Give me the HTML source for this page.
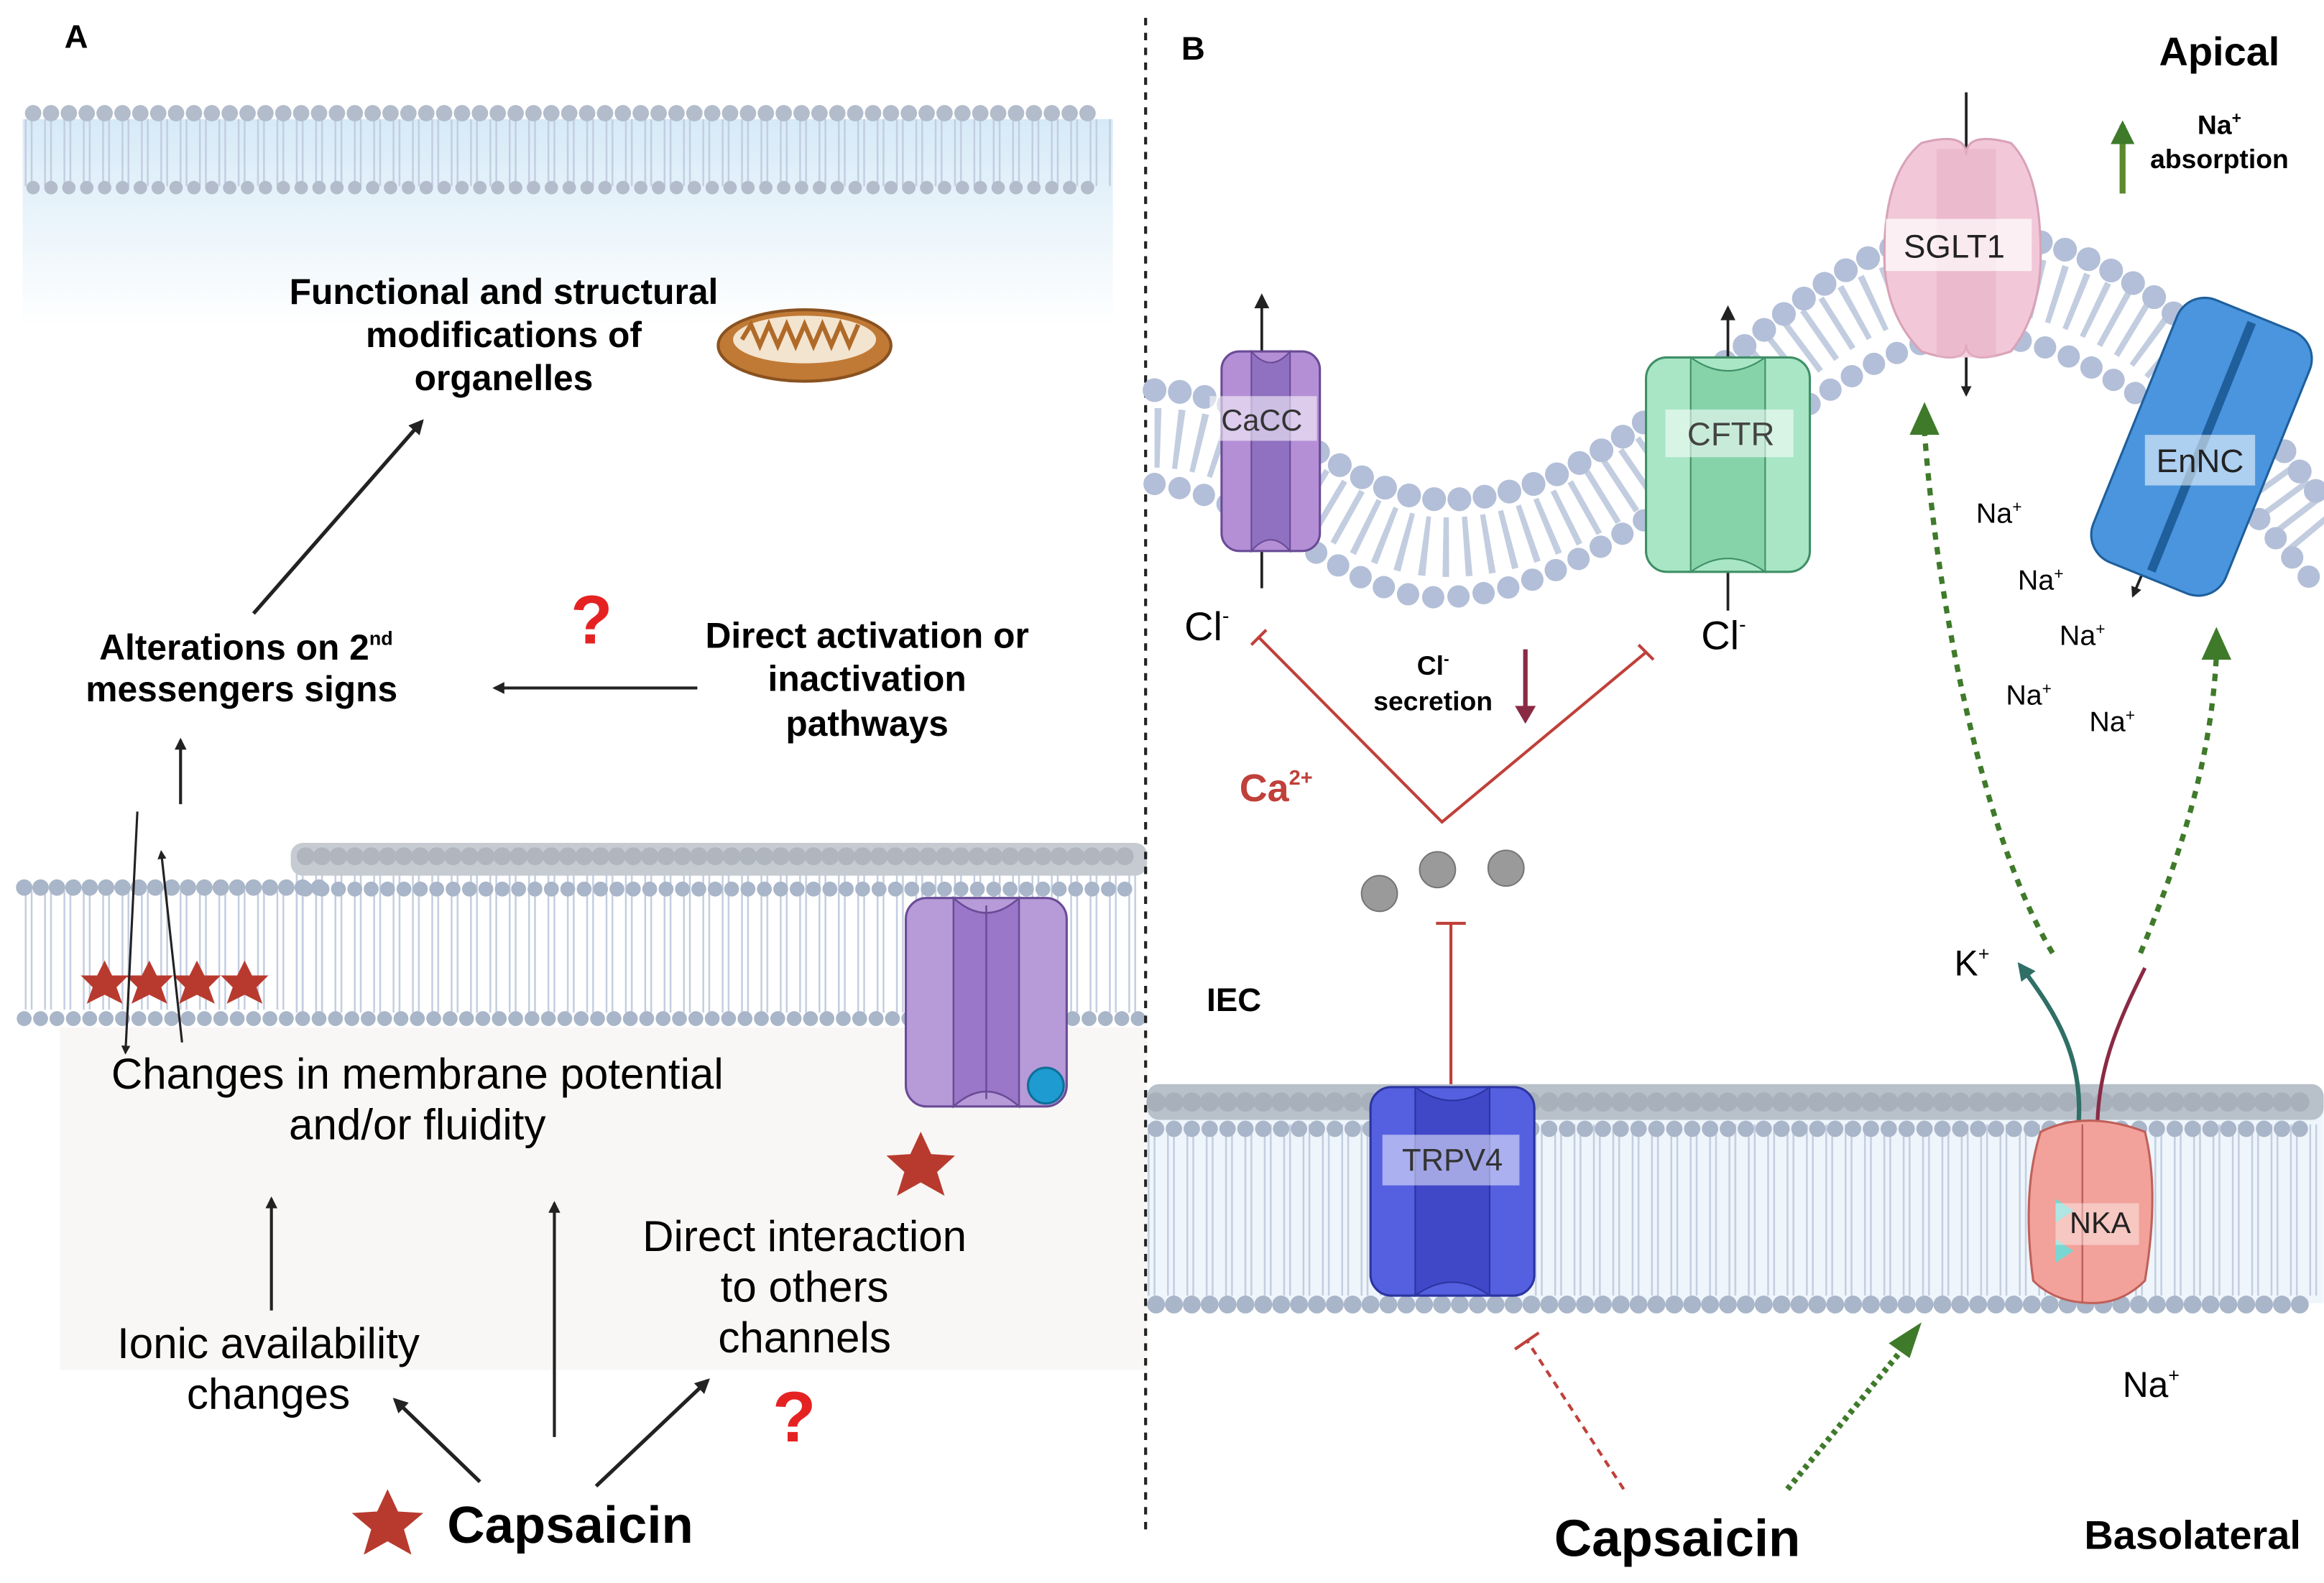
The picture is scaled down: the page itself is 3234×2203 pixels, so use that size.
<!DOCTYPE html>
<html><head><meta charset="utf-8"><style>html,body{margin:0;padding:0;background:#fff}svg{display:block}</style></head>
<body>
<svg width="3234" height="2203" viewBox="0 0 1560 1063" xmlns="http://www.w3.org/2000/svg" font-family="Liberation Sans, sans-serif">
<defs>
<pattern id="tails" width="13" height="200" patternUnits="userSpaceOnUse">
<path d="M4,0 V200 M8,0 V200" stroke="#c3cde0" stroke-width="1.2"/>
</pattern>
<linearGradient id="blueg" x1="0" y1="0" x2="0" y2="1"><stop offset="0" stop-color="#d6eaf7"/><stop offset="1" stop-color="#fff"/></linearGradient>
<marker id="ak" viewBox="0 0 10 10" refX="8" refY="5" markerWidth="4" markerHeight="4" orient="auto"><path d="M0,0 L10,5 L0,10z" fill="#222"/></marker>
<marker id="ag" viewBox="0 0 10 10" refX="8" refY="5" markerWidth="4" markerHeight="4" orient="auto"><path d="M0,0 L10,5 L0,10z" fill="#3e7a2a"/></marker>
<marker id="at" viewBox="0 0 10 10" refX="8" refY="5" markerWidth="4" markerHeight="4" orient="auto"><path d="M0,0 L10,5 L0,10z" fill="#2f6f66"/></marker>
</defs>

<!-- Panel A top membrane -->
<rect x="15" y="80" width="732" height="140" fill="url(#blueg)"/>
<rect x="15" y="80" width="732" height="45" fill="url(#tails)"/>
<line x1="22" y1="76" x2="740" y2="76" stroke="#b2bccb" stroke-width="11" stroke-dasharray="0 12" stroke-linecap="round"/>
<line x1="22" y1="126" x2="740" y2="126" stroke="#b2bccb" stroke-width="9" stroke-dasharray="0 12" stroke-linecap="round"/>

<text x="43" y="32" font-size="22" font-weight="bold">A</text>
<text x="338" y="204" font-size="24" font-weight="bold" text-anchor="middle">Functional and structural</text>
<text x="338" y="233" font-size="24" font-weight="bold" text-anchor="middle">modifications of</text>
<text x="338" y="262" font-size="24" font-weight="bold" text-anchor="middle">organelles</text>
<!-- mitochondrion -->
<ellipse cx="540" cy="232" rx="58" ry="24" fill="#c07a35" stroke="#8a5220" stroke-width="2"/>
<ellipse cx="540" cy="228" rx="48" ry="16" fill="#f3e4cf"/>
<path d="M498,228 l6,-10 l6,14 l6,-14 l6,14 l6,-14 l6,14 l6,-14 l6,14 l6,-14 l6,14 l6,-14 l6,14 l6,-14" fill="none" stroke="#b06a28" stroke-width="3"/>

<line x1="170" y1="412" x2="283" y2="283" stroke="#222" stroke-width="2.5" marker-end="url(#ak)"/>
<text x="165" y="443" font-size="24" font-weight="bold" text-anchor="middle">Alterations on 2<tspan font-size="13" dy="-10">nd</tspan></text>
<text x="162" y="471" font-size="24" font-weight="bold" text-anchor="middle">messengers signs</text>
<text x="397" y="432" font-size="46" font-weight="bold" fill="#e52222" text-anchor="middle">?</text>
<text x="582" y="435" font-size="24" font-weight="bold" text-anchor="middle">Direct activation or</text>
<text x="582" y="464" font-size="24" font-weight="bold" text-anchor="middle">inactivation</text>
<text x="582" y="494" font-size="24" font-weight="bold" text-anchor="middle">pathways</text>
<line x1="468" y1="462" x2="332" y2="462" stroke="#222" stroke-width="2" marker-end="url(#ak)"/>
<line x1="121" y1="540" x2="121" y2="497" stroke="#222" stroke-width="2" marker-end="url(#ak)"/>

<!-- Panel A middle membrane -->
<rect x="40" y="690" width="730" height="230" fill="#f8f7f5"/>
<rect x="195" y="580" width="575" height="100" fill="url(#tails)"/>
<rect x="10" y="598" width="215" height="80" fill="url(#tails)"/>
<rect x="195" y="566" width="575" height="22" fill="#c6cbd2" rx="8"/>
<line x1="205" y1="575" x2="765" y2="575" stroke="#b0b6be" stroke-width="12" stroke-dasharray="0 11" stroke-linecap="round"/>
<line x1="205" y1="597" x2="765" y2="597" stroke="#a9b5c8" stroke-width="10" stroke-dasharray="0 11" stroke-linecap="round"/>
<line x1="16" y1="596" x2="222" y2="596" stroke="#a9b5c8" stroke-width="11" stroke-dasharray="0 11" stroke-linecap="round"/>
<line x1="16" y1="684" x2="765" y2="684" stroke="#a9b5c8" stroke-width="10" stroke-dasharray="0 11" stroke-linecap="round"/>
<g fill="#b83a2e">
<path id="st" d="M70,645 l5,10 11,0 -8,8 4,11 -12,-6 -12,6 4,-11 -8,-8 11,0z"/>
<use href="#st" x="30"/><use href="#st" x="62"/><use href="#st" x="94"/>
</g>
<path d="M92,545 L84,707" stroke="#222" stroke-width="1.5" fill="none" marker-end="url(#ak)"/>
<path d="M122,700 L108,572" stroke="#222" stroke-width="1.5" fill="none" marker-end="url(#ak)"/>
<!-- purple channel A -->
<g>
<rect x="608" y="603" width="108" height="140" rx="14" fill="#b79ad8" stroke="#6a4b96" stroke-width="1.5"/>
<path d="M640,603 q22,20 44,0 v140 q-22,-20 -44,0z" fill="#9a77c8" stroke="#6a4b96" stroke-width="1.2"/>
<line x1="662" y1="608" x2="662" y2="738" stroke="#6a4b96" stroke-width="1.2"/>
<circle cx="702" cy="729" r="12" fill="#1e9bd0" stroke="#0f6f98" stroke-width="1.5"/>
</g>
<path d="M618,760 l7,15 16,1 -12,11 5,16 -16,-9 -16,9 5,-16 -12,-11 16,-1z" fill="#b83a2e"/>
<text x="280" y="731" font-size="29" text-anchor="middle">Changes in membrane potential</text>
<text x="280" y="765" font-size="29" text-anchor="middle">and/or fluidity</text>
<line x1="182" y1="880" x2="182" y2="805" stroke="#222" stroke-width="2" marker-end="url(#ak)"/>
<line x1="372" y1="965" x2="372" y2="808" stroke="#222" stroke-width="2" marker-end="url(#ak)"/>
<text x="540" y="840" font-size="29" text-anchor="middle">Direct interaction</text>
<text x="540" y="874" font-size="29" text-anchor="middle">to others</text>
<text x="540" y="908" font-size="29" text-anchor="middle">channels</text>
<text x="180" y="912" font-size="29" text-anchor="middle">Ionic availability</text>
<text x="180" y="946" font-size="29" text-anchor="middle">changes</text>
<text x="533" y="968" font-size="48" font-weight="bold" fill="#e52222" text-anchor="middle">?</text>
<line x1="322" y1="995" x2="265" y2="940" stroke="#222" stroke-width="2.5" marker-end="url(#ak)"/>
<line x1="400" y1="998" x2="475" y2="927" stroke="#222" stroke-width="2.5" marker-end="url(#ak)"/>
<path d="M260,1000 l7,15 17,1 -13,11 5,17 -16,-9 -16,9 5,-17 -13,-11 17,-1z" fill="#b83a2e"/>
<text x="300" y="1036" font-size="35" font-weight="bold">Capsaicin</text>

<!-- divider -->
<line x1="769" y1="12" x2="769" y2="1030" stroke="#222" stroke-width="2" stroke-dasharray="5 5"/>

<!-- Panel B -->
<text x="793" y="40" font-size="22" font-weight="bold">B</text>
<text x="1490" y="44" font-size="27" font-weight="bold" text-anchor="middle">Apical</text>
<text x="1490" y="90" font-size="18" font-weight="bold" text-anchor="middle">Na<tspan font-size="11" dy="-7">+</tspan></text>
<text x="1490" y="113" font-size="18" font-weight="bold" text-anchor="middle">absorption</text>
<line x1="1425" y1="130" x2="1425" y2="84" stroke="#5b8a2e" stroke-width="4" marker-end="url(#ag)"/>

<!-- curved membrane -->
<path d="M775,262 C850,262 900,330 960,335 C1030,340 1080,300 1130,265 C1190,220 1230,175 1290,160 C1360,150 1400,170 1440,195 C1490,230 1520,290 1555,330" fill="none" stroke="#c3cde0" stroke-width="40" stroke-dasharray="4 10" transform="translate(0,32)"/>
<path d="M775,262 C850,262 900,330 960,335 C1030,340 1080,300 1130,265 C1190,220 1230,175 1290,160 C1360,150 1400,170 1440,195 C1490,230 1520,290 1555,330" fill="none" stroke="#b3bfd8" stroke-width="16" stroke-dasharray="0 17" stroke-linecap="round"/>
<path d="M775,325 C850,333 900,398 960,401 C1030,403 1080,363 1130,333 C1190,293 1240,243 1300,228 C1360,218 1400,243 1440,268 C1480,303 1520,353 1555,393" fill="none" stroke="#b3bfd8" stroke-width="15" stroke-dasharray="0 17" stroke-linecap="round"/>

<!-- CaCC -->
<line x1="847" y1="206" x2="847" y2="395" stroke="#222" stroke-width="1.8"/>
<path d="M847,197 l-5,10 h10z" fill="#222"/>
<rect x="820" y="236" width="66" height="134" rx="12" fill="#b48fd6" stroke="#6a4b96" stroke-width="1.5"/>
<path d="M840,236 q13,15 26,0 v134 q-13,-15 -26,0z" fill="#9070c0" stroke="#6a4b96"/>
<rect x="812" y="266" width="72" height="30" fill="#fff" opacity="0.55"/>
<text x="847" y="289" font-size="20" text-anchor="middle" fill="#333">CaCC</text>
<text x="795" y="430" font-size="27">Cl<tspan font-size="14" dy="-12">-</tspan></text>

<!-- CFTR -->
<line x1="1160" y1="213" x2="1160" y2="410" stroke="#222" stroke-width="1.8"/>
<path d="M1160,205 l-5,10 h10z" fill="#222"/>
<rect x="1105" y="240" width="110" height="144" rx="14" fill="#a8e6c5" stroke="#3f8f66" stroke-width="1.5"/>
<path d="M1135,240 q25,18 50,0 v144 q-25,-18 -50,0z" fill="#86d3aa" stroke="#3f8f66"/>
<rect x="1118" y="275" width="86" height="32" fill="#fff" opacity="0.55"/>
<text x="1162" y="299" font-size="22" text-anchor="middle" fill="#444">CFTR</text>
<text x="1142" y="436" font-size="27">Cl<tspan font-size="14" dy="-12">-</tspan></text>

<!-- SGLT1 -->
<line x1="1320" y1="62" x2="1320" y2="100" stroke="#222" stroke-width="1.8"/>
<line x1="1320" y1="240" x2="1320" y2="265" stroke="#222" stroke-width="1.8" marker-end="url(#ak)"/>
<path d="M1290,96 q30,-8 30,8 q0,-16 30,-8 q20,20 20,75 q0,40 -20,65 q-30,10 -30,-5 q0,15 -30,5 q-25,-25 -25,-65 q0,-55 25,-75z" fill="#f2c8d8" stroke="#d8a2b8" stroke-width="1.5"/>
<rect x="1300" y="100" width="40" height="140" fill="#e8b0c6" opacity="0.6"/>
<rect x="1266" y="147" width="98" height="35" fill="#fff" opacity="0.7"/>
<text x="1312" y="173" font-size="22" text-anchor="middle" fill="#222">SGLT1</text>

<!-- EnNC -->
<line x1="1510" y1="215" x2="1432" y2="400" stroke="#222" stroke-width="1.8" marker-end="url(#ak)"/>
<g transform="rotate(22 1478 300)">
<rect x="1430" y="205" width="96" height="190" rx="20" fill="#4a95dd" stroke="#1f5f9c" stroke-width="1.5"/>
<line x1="1478" y1="210" x2="1478" y2="390" stroke="#1f5f9c" stroke-width="6"/>
</g>
<rect x="1440" y="292" width="74" height="34" fill="#fff" opacity="0.55"/>
<text x="1477" y="317" font-size="22" text-anchor="middle" fill="#222">EnNC</text>

<g font-size="19" text-anchor="middle">
<text x="1342" y="351">Na<tspan font-size="11" dy="-7">+</tspan></text>
<text x="1370" y="396">Na<tspan font-size="11" dy="-7">+</tspan></text>
<text x="1398" y="433">Na<tspan font-size="11" dy="-7">+</tspan></text>
<text x="1362" y="473">Na<tspan font-size="11" dy="-7">+</tspan></text>
<text x="1418" y="491">Na<tspan font-size="11" dy="-7">+</tspan></text>
</g>

<!-- Cl secretion -->
<text x="962" y="453" font-size="18" font-weight="bold" text-anchor="middle">Cl<tspan font-size="11" dy="-7">-</tspan></text>
<text x="962" y="477" font-size="18" font-weight="bold" text-anchor="middle">secretion</text>
<line x1="1024" y1="436" x2="1024" y2="480" stroke="#8a2a45" stroke-width="3"/>
<path d="M1017,474 h14 l-7,12z" fill="#8a2a45"/>
<path d="M845,428 L968,552 L1105,438" fill="none" stroke="#c0403a" stroke-width="2"/>
<line x1="840" y1="433" x2="850" y2="423" stroke="#c0403a" stroke-width="2"/>
<line x1="1100" y1="433" x2="1110" y2="443" stroke="#c0403a" stroke-width="2"/>
<text x="832" y="538" font-size="26" font-weight="bold" fill="#c0403a">Ca<tspan font-size="14" dy="-11">2+</tspan></text>
<circle cx="926" cy="600" r="12" fill="#9a9a9a" stroke="#777"/>
<circle cx="965" cy="584" r="12" fill="#9a9a9a" stroke="#777"/>
<circle cx="1011" cy="583" r="12" fill="#9a9a9a" stroke="#777"/>
<line x1="974" y1="620" x2="974" y2="730" stroke="#c0403a" stroke-width="2"/>
<line x1="964" y1="620" x2="984" y2="620" stroke="#c0403a" stroke-width="2"/>
<text x="810" y="679" font-size="22" font-weight="bold">IEC</text>

<!-- bottom membrane B -->
<rect x="770" y="745" width="790" height="130" fill="#eef5fb"/>
<rect x="770" y="755" width="790" height="115" fill="url(#tails)"/>
<rect x="770" y="728" width="790" height="24" rx="8" fill="#b8c0ca"/>
<line x1="776" y1="740" x2="1555" y2="740" stroke="#a8b0bb" stroke-width="13" stroke-dasharray="0 12" stroke-linecap="round"/>
<line x1="776" y1="758" x2="1555" y2="758" stroke="#a9b5c8" stroke-width="11" stroke-dasharray="0 12" stroke-linecap="round"/>
<line x1="776" y1="876" x2="1555" y2="876" stroke="#a9b5c8" stroke-width="12" stroke-dasharray="0 12" stroke-linecap="round"/>

<!-- TRPV4 -->
<rect x="920" y="730" width="110" height="140" rx="14" fill="#5560e0" stroke="#2b34a0" stroke-width="1.5"/>
<path d="M950,730 q25,18 50,0 v140 q-25,-18 -50,0z" fill="#4048c8" stroke="#2b34a0"/>
<rect x="928" y="762" width="92" height="34" fill="#fff" opacity="0.5"/>
<text x="975" y="786" font-size="21" text-anchor="middle" fill="#333">TRPV4</text>

<!-- NKA -->
<path d="M1395,760 C1400,710 1380,680 1356,648" fill="none" stroke="#2f6f66" stroke-width="3" marker-end="url(#at)"/>
<path d="M1440,650 C1420,690 1408,720 1408,760" fill="none" stroke="#8a2a45" stroke-width="2.5"/>
<path d="M1370,760 q30,-15 70,0 q10,40 0,100 q-15,15 -35,15 q-25,0 -40,-15 q-8,-60 5,-100z" fill="#f2a29a" stroke="#c0605a" stroke-width="1.5"/>
<path d="M1398,755 v120" stroke="#c0605a" stroke-width="1.2"/>
<path d="M1380,805 l12,8 -12,8z M1380,832 l12,8 -12,8z" fill="#7ad6d0"/>
<rect x="1380" y="808" width="56" height="28" fill="#fff" opacity="0.4"/>
<text x="1410" y="828" font-size="20" text-anchor="middle" fill="#222">NKA</text>
<text x="1312" y="655" font-size="24">K<tspan font-size="13" dy="-10">+</tspan></text>
<text x="1425" y="938" font-size="24">Na<tspan font-size="13" dy="-10">+</tspan></text>

<!-- green dashed arrows -->
<path d="M1378,640 C1330,560 1300,400 1292,290" fill="none" stroke="#3e7a2a" stroke-width="3.5" stroke-dasharray="5 5"/>
<path d="M1282,292 l10,-22 l10,22z" fill="#3e7a2a"/>
<path d="M1437,640 C1470,560 1485,500 1488,440" fill="none" stroke="#3e7a2a" stroke-width="3.5" stroke-dasharray="5 5"/>
<path d="M1478,443 l10,-22 l10,22z" fill="#3e7a2a"/>
<path d="M1200,1000 L1278,905" fill="none" stroke="#3e7a2a" stroke-width="4" stroke-dasharray="3 3"/>
<path d="M1268,902 l22,-14 -8,24z" fill="#3e7a2a"/>
<path d="M1090,1000 L1025,900" fill="none" stroke="#c0403a" stroke-width="2" stroke-dasharray="5 4"/>
<line x1="1017" y1="906" x2="1033" y2="895" stroke="#c0403a" stroke-width="2"/>

<text x="1126" y="1045" font-size="35" font-weight="bold" text-anchor="middle">Capsaicin</text>
<text x="1472" y="1040" font-size="27" font-weight="bold" text-anchor="middle">Basolateral</text>
</svg>
</body></html>
